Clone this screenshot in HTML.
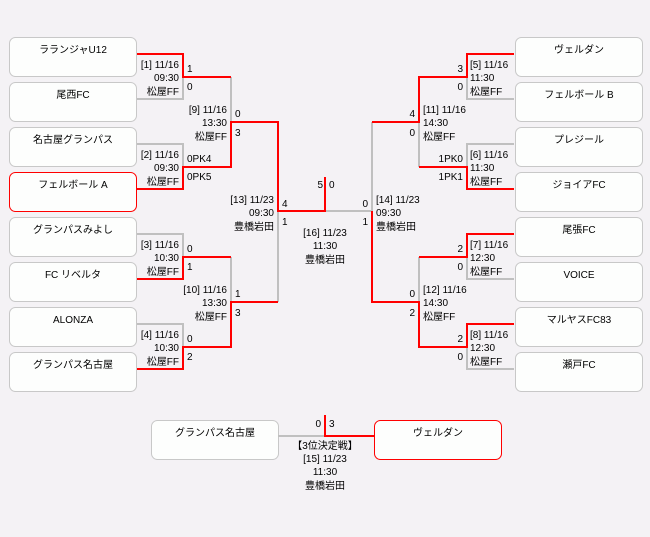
<!DOCTYPE html>
<html><head><meta charset="utf-8"><style>
html,body{margin:0;padding:0;background:#f4f2f5;}
svg{display:block;}
text{font-family:"Liberation Sans","Noto Sans CJK JP",sans-serif;font-size:10px;fill:#000;}
</style></head><body>
<svg width="650" height="537" viewBox="0 0 650 537" xmlns="http://www.w3.org/2000/svg">
<rect width="650" height="537" fill="#f4f2f5"/>
<g fill="#fdfefd" stroke="#c8c8c8" stroke-width="1">
<rect x="9.5" y="37.5" width="127" height="39" rx="6"/>
<rect x="9.5" y="82.5" width="127" height="39" rx="6"/>
<rect x="9.5" y="127.5" width="127" height="39" rx="6"/>
<rect x="9.5" y="172.5" width="127" height="39" rx="6" stroke="#ff0000"/>
<rect x="9.5" y="217.5" width="127" height="39" rx="6"/>
<rect x="9.5" y="262.5" width="127" height="39" rx="6"/>
<rect x="9.5" y="307.5" width="127" height="39" rx="6"/>
<rect x="9.5" y="352.5" width="127" height="39" rx="6"/>
<rect x="515.5" y="37.5" width="127" height="39" rx="6"/>
<rect x="515.5" y="82.5" width="127" height="39" rx="6"/>
<rect x="515.5" y="127.5" width="127" height="39" rx="6"/>
<rect x="515.5" y="172.5" width="127" height="39" rx="6"/>
<rect x="515.5" y="217.5" width="127" height="39" rx="6"/>
<rect x="515.5" y="262.5" width="127" height="39" rx="6"/>
<rect x="515.5" y="307.5" width="127" height="39" rx="6"/>
<rect x="515.5" y="352.5" width="127" height="39" rx="6"/>
<rect x="151.5" y="420.5" width="127" height="39" rx="6"/>
<rect x="374.5" y="420.5" width="127" height="39" rx="6" stroke="#ff0000"/>
</g>
<g fill="none" stroke-width="2">
<g stroke="#c0c0c0">
<polyline points="137,99 183,99 183,77"/>
<polyline points="137,144 183,144 183,167"/>
<polyline points="137,234 183,234 183,257"/>
<polyline points="137,324 183,324 183,347"/>
<polyline points="231,77 231,122"/>
<polyline points="231,257 231,302"/>
<polyline points="278,212 278,302"/>
<polyline points="325,211 372,211 372,122"/>
<polyline points="419,122 419,167"/>
<polyline points="419,257 419,302"/>
<polyline points="514,99 467,99 467,77"/>
<polyline points="514,144 467,144 467,167"/>
<polyline points="514,279 467,279 467,257"/>
<polyline points="514,369 467,369 467,347"/>
<polyline points="278,436 325,436"/>
</g>
<g stroke="#ff0000">
<polyline points="137,54 183,54 183,77 231,77"/>
<polyline points="137,189 183,189 183,167 231,167 231,122 278,122 278,211 325,211 325,177"/>
<polyline points="137,279 183,279 183,257 231,257"/>
<polyline points="137,369 183,369 183,347 231,347 231,302 278,302"/>
<polyline points="514,54 467,54 467,77 419,77 419,122 372,122"/>
<polyline points="514,189 467,189 467,167 419,167"/>
<polyline points="514,234 467,234 467,257 419,257"/>
<polyline points="514,324 467,324 467,347 419,347 419,302 372,302 372,211"/>
<polyline points="325,415 325,436 374,436"/>
</g>
</g>
<g text-anchor="middle">
<text x="73" y="53">ラランジャU12</text>
<text x="73" y="98">尾西FC</text>
<text x="73" y="143">名古屋グランパス</text>
<text x="73" y="188">フェルボール A</text>
<text x="73" y="233">グランパスみよし</text>
<text x="73" y="278">FC リベルタ</text>
<text x="73" y="323">ALONZA</text>
<text x="73" y="368">グランパス名古屋</text>
<text x="579" y="53">ヴェルダン</text>
<text x="579" y="98">フェルボール B</text>
<text x="579" y="143">プレジール</text>
<text x="579" y="188">ジョイアFC</text>
<text x="579" y="233">尾張FC</text>
<text x="579" y="278">VOICE</text>
<text x="579" y="323">マルヤスFC83</text>
<text x="579" y="368">瀬戸FC</text>
<text x="215" y="436">グランパス名古屋</text>
<text x="438" y="436">ヴェルダン</text>
</g>
<g text-anchor="end">
<text x="179" y="68">[1] 11/16</text><text x="179" y="81">09:30</text><text x="179" y="95">松屋FF</text>
<text x="179" y="158">[2] 11/16</text><text x="179" y="171">09:30</text><text x="179" y="185">松屋FF</text>
<text x="179" y="248">[3] 11/16</text><text x="179" y="261">10:30</text><text x="179" y="275">松屋FF</text>
<text x="179" y="338">[4] 11/16</text><text x="179" y="351">10:30</text><text x="179" y="365">松屋FF</text>
<text x="227" y="113">[9] 11/16</text><text x="227" y="126">13:30</text><text x="227" y="140">松屋FF</text>
<text x="227" y="293">[10] 11/16</text><text x="227" y="306">13:30</text><text x="227" y="320">松屋FF</text>
<text x="274" y="203">[13] 11/23</text><text x="274" y="216">09:30</text><text x="274" y="230">豊橋岩田</text>
<text x="323" y="188">5</text>
<text x="368" y="207">0</text>
<text x="368" y="225">1</text>
<text x="415" y="117">4</text><text x="415" y="136">0</text>
<text x="463" y="162">1PK0</text><text x="463" y="180">1PK1</text>
<text x="415" y="297">0</text><text x="415" y="316">2</text>
<text x="463" y="72">3</text><text x="463" y="90">0</text>
<text x="463" y="252">2</text><text x="463" y="270">0</text>
<text x="463" y="342">2</text><text x="463" y="360">0</text>
<text x="321" y="427">0</text>
</g>
<g text-anchor="start">
<text x="187" y="72">1</text><text x="187" y="90">0</text>
<text x="187" y="162">0PK4</text><text x="187" y="180">0PK5</text>
<text x="187" y="252">0</text><text x="187" y="270">1</text>
<text x="187" y="342">0</text><text x="187" y="360">2</text>
<text x="235" y="117">0</text><text x="235" y="136">3</text>
<text x="235" y="297">1</text><text x="235" y="316">3</text>
<text x="282" y="207">4</text><text x="282" y="225">1</text>
<text x="329" y="188">0</text>
<text x="329" y="427">3</text>
<text x="376" y="203">[14] 11/23</text><text x="376" y="216">09:30</text><text x="376" y="230">豊橋岩田</text>
<text x="423" y="113">[11] 11/16</text><text x="423" y="126">14:30</text><text x="423" y="140">松屋FF</text>
<text x="423" y="293">[12] 11/16</text><text x="423" y="306">14:30</text><text x="423" y="320">松屋FF</text>
<text x="470" y="68">[5] 11/16</text><text x="470" y="81">11:30</text><text x="470" y="95">松屋FF</text>
<text x="470" y="158">[6] 11/16</text><text x="470" y="171">11:30</text><text x="470" y="185">松屋FF</text>
<text x="470" y="248">[7] 11/16</text><text x="470" y="261">12:30</text><text x="470" y="275">松屋FF</text>
<text x="470" y="338">[8] 11/16</text><text x="470" y="351">12:30</text><text x="470" y="365">松屋FF</text>
</g>
<g text-anchor="middle">
<text x="325" y="236">[16] 11/23</text><text x="325" y="249">11:30</text><text x="325" y="263">豊橋岩田</text>
<text x="325" y="449">【3位決定戦】</text><text x="325" y="462">[15] 11/23</text><text x="325" y="475">11:30</text><text x="325" y="489">豊橋岩田</text>
</g>
</svg>
</body></html>
